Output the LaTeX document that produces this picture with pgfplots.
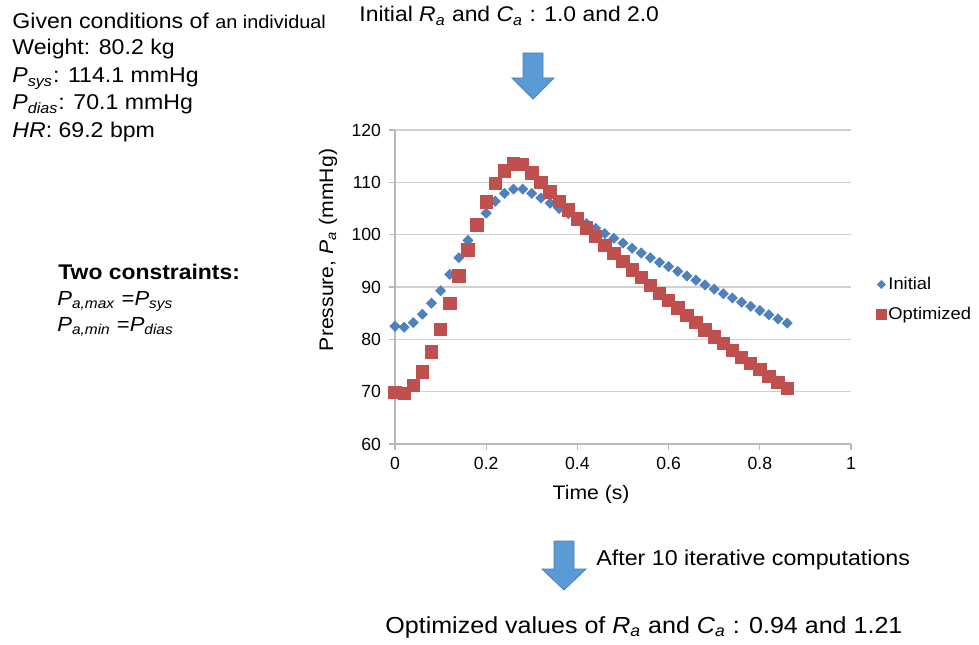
\documentclass[border=0pt]{standalone}
\usepackage{fontspec}
\setmainfont{Liberation Sans}[FakeStretch=1.08]
\newfontfamily\tickfont{Liberation Sans}
\usepackage{pgfplots}
\pgfplotsset{compat=1.18}

\definecolor{initblue}{HTML}{4F81BD}
\definecolor{optred}{HTML}{C0504D}
\definecolor{arrowfill}{HTML}{5B9BD5}
\definecolor{arrowline}{HTML}{4A7EBB}
\definecolor{gridgray}{HTML}{D0D0D0}
\definecolor{axisgray}{HTML}{B8B8B8}

\newcommand{\iv}[1]{\textit{#1}}
\newcommand{\sub}[1]{\textsubscript{\textit{#1}}}

% Initial: R_a = 1.0, C_a = 2.0
\pgfplotstableread{
t p
0.00 82.5
0.02 82.3
0.04 83.2
0.06 84.8
0.08 86.9
0.10 89.3
0.12 92.4
0.14 95.6
0.16 98.9
0.18 101.8
0.20 104.1
0.22 106.4
0.24 107.9
0.26 108.7
0.28 108.7
0.30 107.9
0.32 107.0
0.34 106.0
0.36 105.0
0.38 104.0
0.40 103.1
0.42 102.1
0.44 101.2
0.46 100.2
0.48 99.3
0.50 98.4
0.52 97.4
0.54 96.5
0.56 95.6
0.58 94.7
0.60 93.9
0.62 93.0
0.64 92.1
0.66 91.3
0.68 90.4
0.70 89.6
0.72 88.7
0.74 87.9
0.76 87.1
0.78 86.3
0.80 85.5
0.82 84.7
0.84 83.9
0.86 83.1
}\initial

% Optimized: R_a = 0.94, C_a = 1.21
\pgfplotstableread{
t p
0.00 69.9
0.02 69.7
0.04 71.2
0.06 73.8
0.08 77.6
0.10 81.9
0.12 86.9
0.14 92.1
0.16 97.1
0.18 101.9
0.20 106.3
0.22 109.8
0.24 112.2
0.26 113.5
0.28 113.4
0.30 111.8
0.32 110.0
0.34 108.2
0.36 106.4
0.38 104.7
0.40 103.0
0.42 101.3
0.44 99.7
0.46 98.0
0.48 96.4
0.50 94.9
0.52 93.3
0.54 91.8
0.56 90.3
0.58 88.8
0.60 87.4
0.62 86.0
0.64 84.6
0.66 83.2
0.68 81.8
0.70 80.5
0.72 79.2
0.74 77.9
0.76 76.6
0.78 75.4
0.80 74.2
0.82 72.9
0.84 71.8
0.86 70.6
}\optimized

\begin{document}
\begin{tikzpicture}
\path[use as bounding box] (0,0) rectangle (489.5pt,322pt);

\begin{axis}[
  at={(197.5pt,100pt)}, anchor=south west,
  scale only axis, width=228pt, height=157pt,
  xmin=0, xmax=1, ymin=60, ymax=120,
  xtick={0,0.2,...,1}, ytick={60,70,...,120},
  xticklabels={0,0.2,0.4,0.6,0.8,1},
  axis x line*=bottom, axis y line*=left,
  axis line style={axisgray, line width=0.6pt},
  x axis line style={-}, y axis line style={-},
  ymajorgrids, grid style={gridgray, line width=0.6pt},
  tick style={axisgray, line width=0.6pt},
  major tick length=3pt, tick align=outside,
  /pgf/number format/assume math mode=true,
  ticklabel style={font=\tickfont\fontsize{8.8}{10}\selectfont},
  yticklabel style={xshift=-0.5pt},
  xlabel={Time (s)}, ylabel={Pressure, \iv{P}\sub{a} (mmHg)},
  label style={font=\fontsize{9.8}{11}\selectfont},
  xlabel style={at={(rel axis cs:0.43,-0.162)}, anchor=center},
  ylabel style={at={(rel axis cs:-0.147,0.618)}, anchor=center},
  legend image code/.code={
    \draw[mark repeat=2, mark phase=2, #1, every mark/.append style={scale=0.8}]
      plot coordinates {(0pt,0pt) (4.5pt,0pt) (9pt,0pt)};},
  legend style={at={(rel axis cs:1.055,0.54)}, anchor=north west,
    draw=none, fill=none, font=\fontsize{8.5}{10}\selectfont,
    row sep=5.5pt, inner sep=0pt,
    nodes={inner sep=1pt, anchor=west}},
  legend cell align=left,
  clip=false,
]
\addplot[only marks, mark=square*, mark size=1.75pt,
  mark options={rotate=45, fill=initblue, draw=initblue}]
  table[x=t, y=p] {\initial};
\addlegendentry{Initial}
\addplot[only marks, mark=square*, mark size=3.1pt,
  mark options={fill=optred, draw=optred}]
  table[x=t, y=p] {\optimized};
\addlegendentry{Optimized}
\end{axis}

\begin{scope}[x=0.5pt, y=-0.5pt, shift={(0pt,322pt)},
  every node/.style={inner sep=0pt, anchor=base west}]
  % given conditions
  \node[font=\fontsize{10.7}{12}\selectfont] at (12,29)
    {Given conditions of {\fontsize{9.2}{11}\selectfont an individual}};
  \node[font=\fontsize{10.7}{12}\selectfont] at (12,55) {Weight: 80.2 kg};
  \node[font=\fontsize{10.7}{12}\selectfont] at (12,83) {\iv{P}\sub{sys}: 114.1 mmHg};
  \node[font=\fontsize{10.7}{12}\selectfont] at (12,110) {\iv{P}\sub{dias}: 70.1 mmHg};
  \node[font=\fontsize{10.7}{12}\selectfont] at (12,137) {\iv{HR}: 69.2 bpm};
  % constraints
  \node[font=\fontsize{10.6}{12}\selectfont\bfseries] at (58,279) {Two constraints:};
  \node[font=\fontsize{10.2}{12}\selectfont] at (57,305) {\iv{P}\sub{a,max} =\iv{P}\sub{sys}};
  \node[font=\fontsize{10.2}{12}\selectfont] at (57,331) {\iv{P}\sub{a,min} =\iv{P}\sub{dias}};
  % top and bottom texts
  \node[font=\fontsize{10.6}{12}\selectfont] at (359,22)
    {Initial \iv{R}\sub{a} and \iv{C}\sub{a} : 1.0 and 2.0};
  \node[font=\fontsize{10.75}{12}\selectfont] at (596,565) {After 10 iterative computations};
  \node[font=\fontsize{11.6}{13}\selectfont] at (385,633)
    {Optimized values of \iv{R}\sub{a} and \iv{C}\sub{a} : 0.94 and 1.21};
  % block arrows
  \draw[fill=arrowfill, draw=arrowline, line width=0.4pt]
    (523,53) -- (543,53) -- (543,78) -- (554,78) -- (533,99) -- (512,78) -- (523,78) -- cycle;
  \draw[fill=arrowfill, draw=arrowline, line width=0.4pt]
    (554,541) -- (574,541) -- (574,569) -- (586,569) -- (564,590) -- (542,569) -- (554,569) -- cycle;
\end{scope}
\end{tikzpicture}
\end{document}
